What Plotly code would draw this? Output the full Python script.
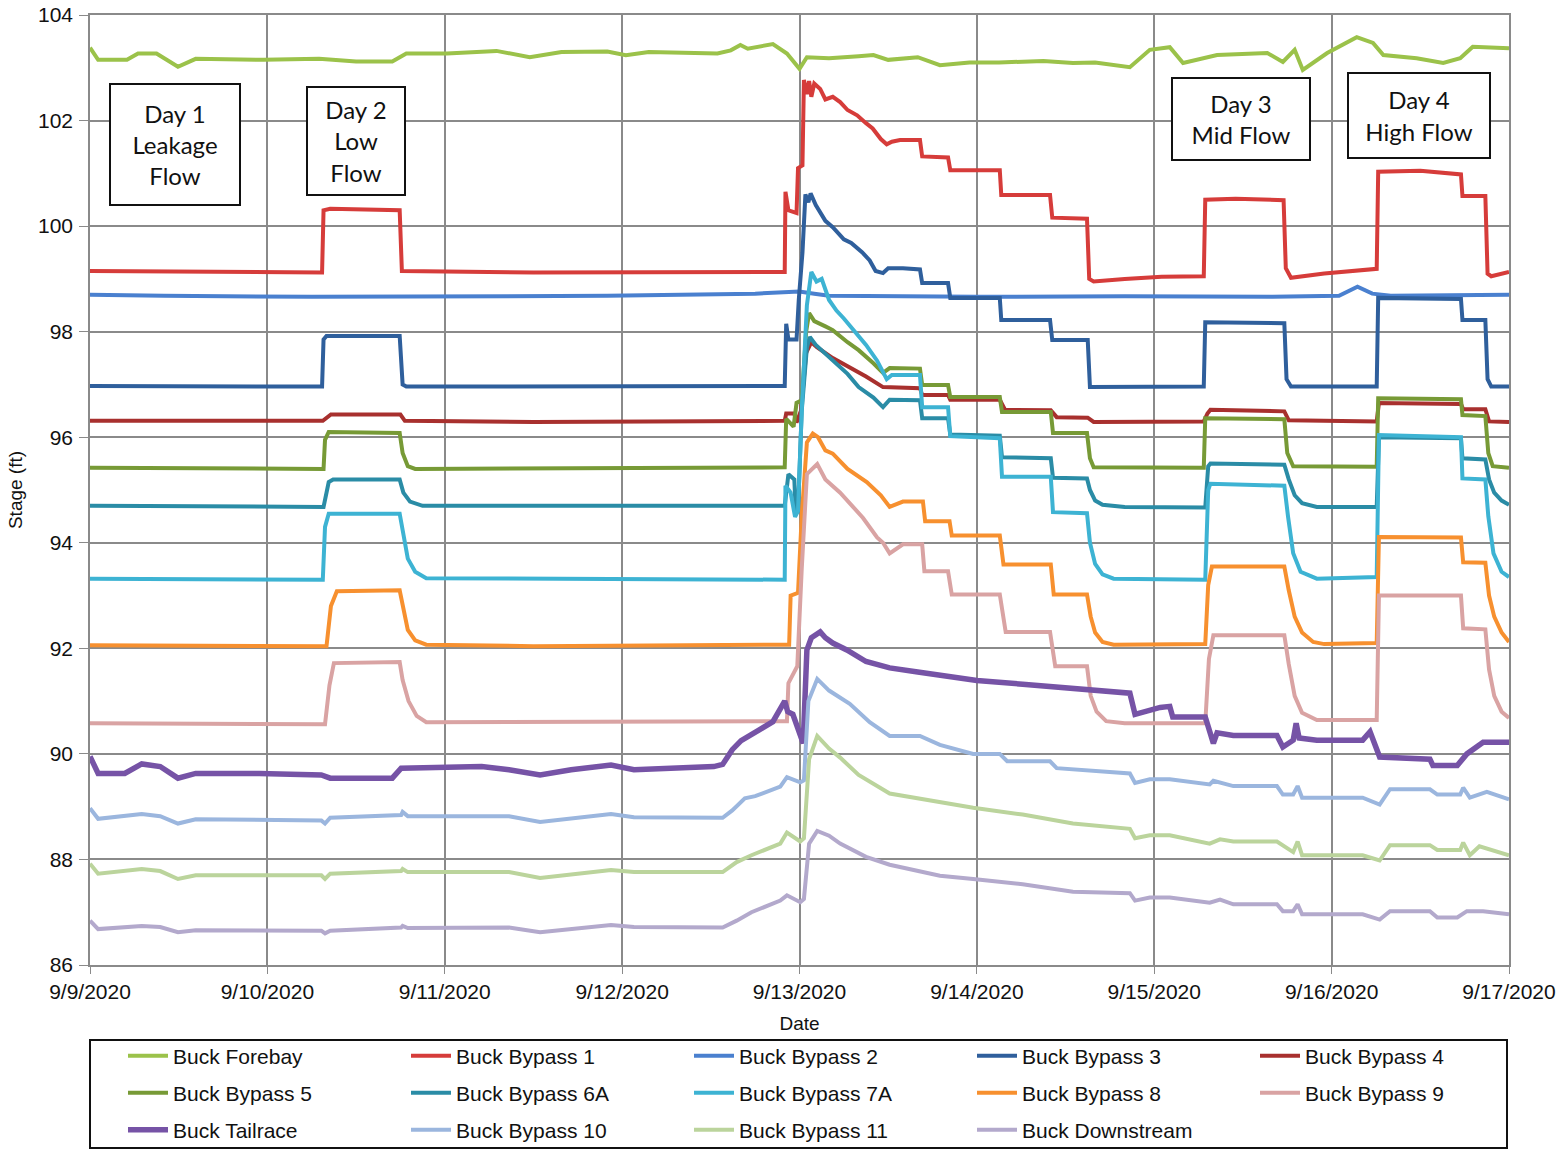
import pandas as pd
import plotly.graph_objects as go

BASE = pd.Timestamp("2020-09-09")

# ---- data: hours since 9/9/2020 00:00 and stage (ft) ----
forebay_t = [0, 1.1, 5.0, 6.5, 9.0, 11.9, 14.3, 23.5, 31.0, 36.0, 40.9, 42.8, 48.3, 55.0, 59.5, 63.8, 70.0, 72.5, 75.6, 84.9, 86.7, 88.0, 89.0, 92.4, 94.3, 96.0, 97.0, 100.0, 104.0, 106.0, 108.0, 112.0, 115.0, 119.0, 123.0, 129.0, 133.0, 136.0, 140.7, 143.4, 146.1, 147.9, 152.5, 159.3, 161.4, 163.0, 164.1, 167.4, 171.4, 173.6, 175.0, 179.5, 183.1, 185.4, 187.1, 192.0]
forebay_v = [103.38, 103.15, 103.15, 103.27, 103.27, 103.02, 103.17, 103.15, 103.17, 103.12, 103.12, 103.27, 103.27, 103.32, 103.20, 103.30, 103.31, 103.24, 103.30, 103.27, 103.33, 103.43, 103.36, 103.45, 103.27, 102.98, 103.20, 103.18, 103.22, 103.24, 103.15, 103.20, 103.05, 103.10, 103.10, 103.13, 103.09, 103.10, 103.01, 103.34, 103.39, 103.09, 103.24, 103.28, 103.11, 103.34, 102.96, 103.28, 103.58, 103.47, 103.24, 103.18, 103.09, 103.18, 103.40, 103.37]

bp1_t = [0, 31.4, 31.6, 32.5, 41.9, 42.2, 60, 94.0, 94.1, 94.5, 95.6, 95.8, 96.4, 96.6, 97.0, 97.3, 97.6, 98.0, 98.8, 99.5, 100.5, 101.5, 102.5, 103.8, 105.0, 105.9, 107.0, 107.8, 108.5, 109.6, 112.3, 112.6, 116.1, 116.4, 123.1, 123.3, 129.9, 130.2, 134.9, 135.2, 135.8, 140, 145, 150.7, 150.9, 155, 161.5, 161.8, 162.5, 167, 174.1, 174.3, 180, 185.5, 185.7, 188.8, 189.1, 189.6, 192]
bp1_v = [99.15, 99.12, 100.30, 100.33, 100.30, 99.15, 99.12, 99.13, 100.65, 100.30, 100.25, 101.10, 101.15, 102.77, 102.50, 102.75, 102.45, 102.70, 102.60, 102.40, 102.45, 102.35, 102.20, 102.10, 101.95, 101.85, 101.65, 101.55, 101.60, 101.63, 101.63, 101.32, 101.30, 101.06, 101.06, 100.59, 100.59, 100.16, 100.14, 99.00, 98.95, 99.00, 99.04, 99.05, 100.50, 100.52, 100.49, 99.20, 99.02, 99.10, 99.19, 101.03, 101.05, 100.98, 100.57, 100.57, 99.10, 99.05, 99.13]

bp2_t = [0, 10, 30, 50, 70, 90, 94, 96, 98, 100, 120, 140, 160, 169, 171.5, 173.5, 176, 192]
bp2_v = [98.70, 98.68, 98.66, 98.67, 98.68, 98.72, 98.74, 98.76, 98.72, 98.68, 98.66, 98.67, 98.66, 98.68, 98.85, 98.72, 98.68, 98.70]

bp3_t = [0, 31.4, 31.6, 32.0, 41.9, 42.3, 42.8, 94.0, 94.2, 94.5, 95.6, 95.9, 96.4, 96.8, 97.2, 97.5, 98.2, 99.5, 100.5, 102.0, 103.0, 104.5, 105.5, 106.3, 107.3, 108.0, 110.0, 112.3, 112.6, 116.1, 116.4, 123.1, 123.3, 129.9, 130.2, 135.0, 135.3, 150.7, 150.9, 161.6, 161.9, 162.5, 174.1, 174.3, 185.5, 185.7, 188.8, 189.1, 189.6, 192]
bp3_v = [96.97, 96.96, 97.85, 97.92, 97.92, 97.00, 96.96, 96.97, 98.15, 97.85, 97.85, 98.60, 99.50, 100.60, 100.45, 100.62, 100.40, 100.10, 99.98, 99.75, 99.68, 99.50, 99.35, 99.15, 99.11, 99.20, 99.20, 99.18, 98.92, 98.92, 98.64, 98.64, 98.22, 98.22, 97.84, 97.84, 96.95, 96.96, 98.18, 98.16, 97.10, 96.96, 96.96, 98.64, 98.62, 98.22, 98.22, 97.10, 96.96, 96.96]

bp4_t = [0, 31.5, 32.6, 42.0, 42.6, 60, 94.0, 94.2, 95.3, 95.6, 96.2, 96.9, 97.6, 98.4, 100.5, 102.5, 105.0, 107.3, 112.3, 112.6, 116.1, 116.4, 123.1, 123.8, 130.0, 130.8, 135.0, 135.8, 150.7, 151.2, 151.6, 161.6, 162.2, 174.1, 174.4, 185.5, 185.8, 188.8, 189.3, 192]
bp4_v = [96.31, 96.31, 96.43, 96.43, 96.31, 96.29, 96.31, 96.45, 96.45, 96.28, 96.50, 97.60, 97.80, 97.70, 97.50, 97.35, 97.15, 96.95, 96.93, 96.80, 96.80, 96.71, 96.71, 96.52, 96.51, 96.38, 96.37, 96.29, 96.30, 96.45, 96.52, 96.49, 96.32, 96.30, 96.65, 96.63, 96.53, 96.53, 96.30, 96.29]

bp5_t = [0, 31.6, 31.8, 32.3, 41.9, 42.3, 43.0, 44.0, 94.0, 94.2, 95.2, 95.6, 96.3, 96.9, 97.3, 98.0, 99.5, 100.5, 102.5, 104.0, 106.0, 107.3, 108.2, 112.3, 112.6, 116.1, 116.4, 123.1, 123.4, 130.0, 130.3, 134.9, 135.3, 135.8, 150.7, 150.9, 161.6, 162.0, 162.8, 174.1, 174.3, 185.5, 185.7, 188.8, 189.2, 189.8, 192]
bp5_v = [95.42, 95.40, 95.95, 96.10, 96.08, 95.70, 95.45, 95.40, 95.43, 96.35, 96.20, 96.65, 96.70, 98.00, 98.35, 98.20, 98.10, 98.03, 97.80, 97.65, 97.40, 97.22, 97.31, 97.30, 96.99, 96.99, 96.76, 96.76, 96.48, 96.48, 96.08, 96.08, 95.60, 95.43, 95.42, 96.36, 96.34, 95.70, 95.45, 95.44, 96.74, 96.72, 96.42, 96.40, 95.70, 95.45, 95.42]

bp6a_t = [0, 31.6, 32.3, 32.9, 41.9, 42.4, 43.3, 45.0, 94.0, 94.5, 95.3, 95.5, 95.8, 96.3, 97.0, 97.4, 98.2, 100.5, 102.5, 104.0, 106.0, 107.3, 108.2, 112.3, 112.6, 116.1, 116.4, 123.1, 123.4, 130.0, 130.3, 134.9, 135.3, 136.0, 137.0, 140.0, 150.9, 151.3, 151.6, 161.6, 162.2, 163.0, 164.0, 166.0, 174.1, 174.4, 185.5, 185.7, 188.8, 189.3, 190.0, 191.0, 192]
bp6a_v = [94.70, 94.68, 95.15, 95.20, 95.20, 94.95, 94.78, 94.70, 94.70, 95.30, 95.20, 94.55, 94.60, 96.50, 97.70, 97.90, 97.75, 97.46, 97.20, 96.95, 96.75, 96.57, 96.71, 96.70, 96.36, 96.36, 96.05, 96.03, 95.62, 95.60, 95.23, 95.22, 95.00, 94.80, 94.72, 94.68, 94.67, 95.45, 95.50, 95.48, 95.20, 94.90, 94.75, 94.68, 94.68, 96.00, 95.98, 95.60, 95.58, 95.20, 94.95, 94.80, 94.72]

bp7a_t = [0, 31.5, 31.8, 32.3, 41.9, 42.3, 43.0, 44.0, 45.5, 94.0, 94.1, 94.8, 95.4, 95.8, 96.3, 97.0, 97.6, 98.3, 99.0, 100.0, 101.0, 102.0, 103.8, 105.0, 106.5, 107.8, 108.5, 112.3, 112.6, 116.1, 116.4, 123.1, 123.4, 130.0, 130.3, 134.9, 135.3, 136.0, 137.0, 138.5, 150.9, 151.3, 151.6, 161.6, 162.1, 162.8, 163.8, 166.0, 174.1, 174.4, 185.5, 185.7, 188.8, 189.2, 189.9, 191.0, 192]
bp7a_v = [93.32, 93.30, 94.30, 94.55, 94.55, 94.20, 93.70, 93.45, 93.33, 93.30, 95.08, 94.95, 94.49, 94.60, 96.50, 98.50, 99.13, 98.95, 99.00, 98.60, 98.40, 98.25, 97.95, 97.75, 97.45, 97.10, 97.18, 97.18, 96.57, 96.57, 96.02, 95.98, 95.25, 95.25, 94.58, 94.56, 94.00, 93.60, 93.40, 93.32, 93.30, 95.00, 95.12, 95.08, 94.50, 93.80, 93.45, 93.32, 93.35, 96.04, 96.00, 95.22, 95.20, 94.50, 93.80, 93.45, 93.35]

bp8_t = [0, 32.0, 32.6, 33.4, 41.9, 42.3, 43.0, 44.0, 45.5, 60, 94.6, 94.8, 95.8, 96.3, 97.0, 97.8, 98.5, 99.5, 100.5, 102.5, 105.1, 107.0, 108.2, 110.0, 112.7, 113.0, 116.3, 116.6, 123.1, 123.6, 130.0, 130.4, 134.9, 135.4, 136.0, 137.0, 138.5, 150.9, 151.3, 151.8, 161.6, 162.2, 163.0, 164.0, 165.5, 167.0, 174.1, 174.4, 185.5, 185.8, 188.8, 189.3, 190.0, 191.0, 192]
bp8_v = [92.06, 92.04, 92.80, 93.08, 93.10, 92.80, 92.35, 92.15, 92.07, 92.04, 92.07, 93.00, 93.05, 94.50, 95.90, 96.07, 96.00, 95.75, 95.69, 95.40, 95.15, 94.90, 94.68, 94.78, 94.78, 94.41, 94.41, 94.14, 94.14, 93.59, 93.59, 93.02, 93.02, 92.60, 92.30, 92.12, 92.07, 92.08, 93.20, 93.55, 93.55, 93.10, 92.60, 92.30, 92.12, 92.08, 92.10, 94.11, 94.10, 93.63, 93.62, 93.00, 92.60, 92.30, 92.12]

bp9_t = [0, 31.8, 32.4, 33.0, 41.9, 42.3, 43.1, 44.2, 45.5, 94.3, 94.5, 95.7, 96.3, 97.0, 98.4, 99.5, 101.5, 103.5, 104.6, 106.5, 107.3, 108.2, 110.0, 112.6, 112.9, 116.1, 116.6, 123.1, 123.9, 129.9, 130.6, 134.9, 135.4, 136.2, 137.5, 140.0, 150.9, 151.4, 152.0, 161.6, 162.2, 163.0, 164.0, 166.0, 174.1, 174.4, 185.5, 185.8, 188.8, 189.3, 190.0, 191.0, 192]
bp9_v = [90.58, 90.56, 91.30, 91.72, 91.74, 91.40, 91.00, 90.72, 90.60, 90.62, 91.34, 91.66, 93.50, 95.30, 95.49, 95.20, 94.95, 94.65, 94.47, 94.10, 94.00, 93.80, 93.97, 93.97, 93.46, 93.46, 93.02, 93.02, 92.31, 92.31, 91.66, 91.66, 91.10, 90.80, 90.62, 90.58, 90.58, 91.80, 92.25, 92.25, 91.70, 91.10, 90.78, 90.64, 90.64, 93.00, 93.00, 92.38, 92.36, 91.60, 91.10, 90.80, 90.68]

tail_t = [0, 1.1, 4.7, 7.0, 9.5, 11.9, 14.3, 22.9, 31.3, 32.5, 40.9, 42.1, 53.0, 56.7, 60.9, 65.1, 70.5, 73.6, 84.4, 85.6, 86.9, 88.1, 90.5, 92.4, 94.0, 94.4, 95.1, 96.1, 96.5, 97.0, 97.6, 98.8, 99.5, 100.5, 102.4, 105.0, 108.2, 112.0, 115.0, 120.0, 126.2, 133.0, 140.7, 141.4, 144.8, 146.1, 146.5, 150.9, 151.5, 152.0, 152.5, 154.7, 160.6, 161.4, 162.8, 163.2, 163.6, 166.0, 172.2, 173.2, 174.5, 181.3, 181.7, 185.0, 186.3, 188.5, 192]
tail_v = [89.95, 89.63, 89.63, 89.81, 89.76, 89.54, 89.63, 89.63, 89.60, 89.54, 89.54, 89.73, 89.76, 89.70, 89.60, 89.70, 89.79, 89.70, 89.76, 89.80, 90.08, 90.25, 90.45, 90.61, 91.00, 90.80, 90.75, 90.36, 90.20, 91.97, 92.20, 92.31, 92.20, 92.10, 91.97, 91.75, 91.63, 91.55, 91.49, 91.39, 91.32, 91.25, 91.15, 90.75, 90.88, 90.90, 90.70, 90.70, 90.38, 90.20, 90.40, 90.35, 90.35, 90.13, 90.26, 90.58, 90.30, 90.26, 90.26, 90.42, 89.94, 89.90, 89.78, 89.78, 90.00, 90.22, 90.22]

bp10_t = [0, 1.1, 7.0, 9.5, 11.9, 14.3, 31.3, 31.8, 32.5, 42.1, 42.3, 43.0, 56.7, 60.9, 70.5, 73.6, 85.6, 86.9, 88.6, 90.0, 93.4, 94.3, 96.1, 96.6, 97.2, 98.4, 100.0, 102.8, 105.5, 108.2, 112.3, 115.0, 119.5, 123.1, 124.1, 129.9, 130.8, 140.7, 141.4, 143.4, 146.1, 151.5, 152.0, 154.7, 160.6, 161.4, 162.8, 163.4, 164.0, 172.2, 174.5, 175.9, 181.3, 182.3, 185.4, 185.8, 186.7, 189.0, 192]
bp10_v = [88.97, 88.77, 88.86, 88.82, 88.68, 88.76, 88.74, 88.68, 88.79, 88.84, 88.90, 88.82, 88.82, 88.71, 88.86, 88.80, 88.79, 88.93, 89.16, 89.20, 89.38, 89.56, 89.46, 89.50, 91.00, 91.42, 91.20, 90.95, 90.60, 90.34, 90.34, 90.17, 90.00, 90.00, 89.86, 89.86, 89.73, 89.63, 89.45, 89.52, 89.52, 89.42, 89.49, 89.39, 89.39, 89.23, 89.23, 89.39, 89.17, 89.17, 89.04, 89.33, 89.33, 89.23, 89.23, 89.36, 89.17, 89.28, 89.14]

bp11_t = [0, 1.1, 7.0, 9.5, 11.9, 14.3, 31.3, 31.8, 32.5, 42.1, 42.3, 43.0, 56.7, 60.9, 70.5, 73.6, 85.6, 87.5, 89.5, 93.4, 94.3, 96.1, 96.6, 97.3, 98.4, 100.0, 101.5, 104.0, 108.2, 113.3, 119.5, 126.2, 133.0, 140.7, 141.4, 143.4, 146.1, 151.5, 152.9, 154.7, 160.6, 162.8, 163.4, 164.0, 172.2, 174.5, 175.9, 181.3, 182.3, 185.4, 185.8, 186.7, 188.0, 192]
bp11_v = [87.92, 87.73, 87.82, 87.78, 87.63, 87.70, 87.70, 87.63, 87.73, 87.78, 87.82, 87.76, 87.76, 87.65, 87.80, 87.76, 87.76, 87.95, 88.08, 88.30, 88.51, 88.34, 88.40, 89.90, 90.34, 90.10, 89.93, 89.60, 89.25, 89.12, 88.98, 88.85, 88.68, 88.58, 88.40, 88.46, 88.46, 88.30, 88.38, 88.34, 88.34, 88.14, 88.34, 88.08, 88.08, 87.98, 88.27, 88.27, 88.18, 88.18, 88.32, 88.08, 88.25, 88.08]

down_t = [0, 1.1, 7.0, 9.5, 11.9, 14.3, 31.3, 31.8, 32.5, 42.1, 42.3, 43.0, 56.7, 60.9, 70.5, 73.6, 85.6, 87.5, 89.5, 93.4, 94.3, 96.1, 96.6, 97.3, 98.4, 100.0, 101.5, 105.0, 108.2, 115.0, 119.5, 126.2, 133.0, 140.7, 141.4, 143.4, 146.1, 151.5, 152.9, 154.7, 160.6, 161.4, 162.8, 163.4, 164.0, 172.2, 174.5, 175.9, 181.3, 182.3, 185.0, 186.3, 188.5, 192]
down_v = [86.84, 86.68, 86.74, 86.72, 86.62, 86.66, 86.65, 86.60, 86.65, 86.71, 86.74, 86.70, 86.71, 86.62, 86.76, 86.72, 86.71, 86.84, 87.00, 87.22, 87.32, 87.19, 87.25, 88.30, 88.54, 88.45, 88.30, 88.05, 87.90, 87.69, 87.63, 87.53, 87.39, 87.36, 87.22, 87.28, 87.28, 87.18, 87.24, 87.15, 87.15, 87.02, 87.02, 87.15, 86.96, 86.96, 86.86, 87.02, 87.02, 86.90, 86.90, 87.02, 87.02, 86.96]

series_names = ["Buck Forebay", "Buck Bypass 1", "Buck Bypass 2", "Buck Bypass 3", "Buck Bypass 4",
                "Buck Bypass 5", "Buck Bypass 6A", "Buck Bypass 7A", "Buck Bypass 8", "Buck Bypass 9",
                "Buck Tailrace", "Buck Bypass 10", "Buck Bypass 11", "Buck Downstream"]
series_data = [(forebay_t, forebay_v), (bp1_t, bp1_v), (bp2_t, bp2_v), (bp3_t, bp3_v), (bp4_t, bp4_v),
               (bp5_t, bp5_v), (bp6a_t, bp6a_v), (bp7a_t, bp7a_v), (bp8_t, bp8_v), (bp9_t, bp9_v),
               (tail_t, tail_v), (bp10_t, bp10_v), (bp11_t, bp11_v), (down_t, down_v)]
series_colors = ["#9BC24A", "#D63C3A", "#4A80CF", "#2F5F9C", "#A8302E",
                 "#779A36", "#2A8CA6", "#3DB3D3", "#F7902F", "#D9A3A3",
                 "#7653A6", "#9BB6DE", "#BBD49C", "#B3A9CC"]
series_widths = [4, 4, 4, 4, 4, 4, 4, 4, 4, 4, 5.5, 4, 4, 4]

day_labels = ["Day 1<br>Leakage<br>Flow", "Day 2<br>Low<br>Flow", "Day 3<br>Mid Flow", "Day 4<br>High Flow"]

PLOT_L, PLOT_R, PLOT_T, PLOT_B = 90, 1509, 15, 965
PW, PH = PLOT_R - PLOT_L, PLOT_B - PLOT_T


def px(xp):
    return (xp - PLOT_L) / PW


def py(yp):
    return (PLOT_B - yp) / PH


legend_keys = ["legend", "legend2", "legend3"]

fig = go.Figure()
for i, (name, (t, v), c, w) in enumerate(zip(series_names, series_data, series_colors, series_widths)):
    x = BASE + pd.to_timedelta(t, unit="h")
    fig.add_trace(go.Scatter(x=x, y=v, mode="lines", name=name,
                             line=dict(color=c, width=w), legend=legend_keys[i // 5]))

# annotation boxes: center pixel, size
ann_boxes = [(175, 144.5, 128, 119), (356, 141, 96, 106), (1241, 119, 136, 80), (1419, 115.5, 140, 83)]
for lab, (cx, cy, w, h) in zip(day_labels, ann_boxes):
    fig.add_annotation(xref="paper", yref="paper", x=px(cx), y=py(cy), xanchor="center", yanchor="middle",
                       text=lab, showarrow=False,
                       font=dict(family="Lato", size=24, color="#111"),
                       bgcolor="white", bordercolor="#111", borderwidth=2, borderpad=0,
                       width=w, height=h, align="center", valign="middle")

# legend frame
fig.add_shape(type="rect", xref="paper", yref="paper", x0=px(90), x1=px(1507), y0=py(1040), y1=py(1148),
              line=dict(color="#111", width=2), fillcolor="rgba(0,0,0,0)", layer="above")

legend_font = dict(family="Liberation Sans, Arial", size=21, color="#111")
row_y = [1056, 1093, 1130]
leg_common = dict(orientation="h", xanchor="left", yanchor="middle", x=px(123),
                  entrywidth=228, entrywidthmode="pixels", bgcolor="rgba(0,0,0,0)",
                  borderwidth=0, font=legend_font, itemwidth=40, traceorder="normal")

grid = "#8A8A8A"
fig.update_layout(
    width=1563, height=1151,
    margin=dict(l=PLOT_L, r=1563 - PLOT_R, t=PLOT_T, b=1151 - PLOT_B, autoexpand=False),
    paper_bgcolor="white", plot_bgcolor="white",
    font=dict(family="Liberation Sans, Arial", size=21, color="#111"),
    showlegend=True,
    legend=dict(y=py(row_y[0]), **leg_common),
    legend2=dict(y=py(row_y[1]), **leg_common),
    legend3=dict(y=py(row_y[2]), **leg_common),
    xaxis=dict(type="date", range=[BASE, BASE + pd.Timedelta(days=8)],
               dtick=86400000, tickformat="%-m/%-d/%Y",
               showgrid=True, gridcolor=grid, gridwidth=1.6,
               showline=True, linecolor=grid, linewidth=1.6, mirror=True,
               ticks="outside", ticklen=7, tickcolor=grid,
               tickfont=dict(size=21),
               title=dict(text="Date", font=dict(size=19), standoff=15),
               zeroline=False),
    yaxis=dict(range=[86, 104], dtick=2, showgrid=True, gridcolor=grid, gridwidth=1.6,
               showline=True, linecolor=grid, linewidth=1.6, mirror=True,
               ticks="outside", ticklen=9, tickcolor=grid,
               tickfont=dict(size=21), ticklabelstandoff=2,
               title=dict(text="Stage (ft)", font=dict(size=19), standoff=10),
               zeroline=False),
)

fig.write_html("out.html", config={"displayModeBar": False},
               post_script="document.body.style.margin='0';")
